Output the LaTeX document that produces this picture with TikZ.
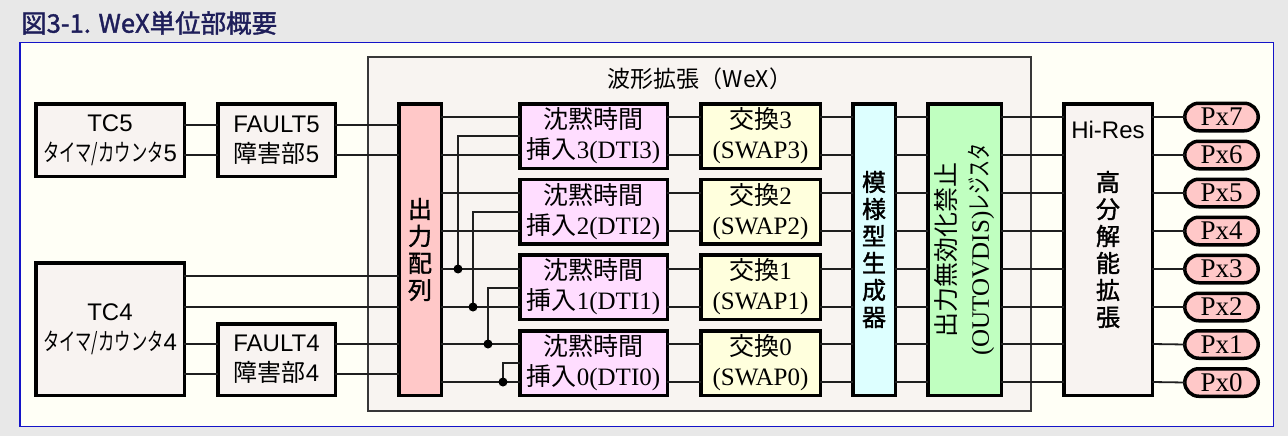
\documentclass[tikz,border=0pt]{standalone}
\usepackage{fontspec}
\setmainfont{Liberation Serif}
\newfontfamily\jp{Noto Sans CJK JP}
\newfontfamily\jpb{Noto Sans CJK JP}[FakeBold=1.5]
\newfontfamily\jpn{Noto Sans CJK JP}[FakeStretch=0.68]
\newfontfamily\ls{Liberation Sans}
\newcommand\fsz[2]{\fontsize{#1}{#2}\selectfont}

\definecolor{pagebg}{HTML}{E8E8E8}
\definecolor{framefill}{HTML}{FFFFF6}
\definecolor{frameline}{HTML}{1414C8}
\definecolor{titlecol}{HTML}{1E1E5A}
\definecolor{wexfill}{HTML}{F8F4F1}
\definecolor{wexline}{HTML}{383838}
\definecolor{unitfill}{HTML}{F8F3F1}
\definecolor{pinkfill}{HTML}{FFC8C8}
\definecolor{dtifill}{HTML}{FFDDFF}
\definecolor{swapfill}{HTML}{FFFFDD}
\definecolor{patfill}{HTML}{DDFFFF}
\definecolor{disfill}{HTML}{C0FFC0}

\tikzset{
  blk/.style={draw=black, line width=3.5pt, inner sep=0pt, outer sep=0pt, align=center},
  unitbox/.style={blk, fill=unitfill, minimum width=148.5pt, font=\ls\fsz{24}{30}},
  faultbox/.style={blk, fill=unitfill, minimum width=117.5pt, font=\ls\fsz{24}{30}},
  tallbox/.style={blk, minimum height=291.5pt, font=\jpb\fsz{24}{27}},
  dtibox/.style={blk, fill=dtifill, minimum width=147.5pt, minimum height=64.5pt, font=\fsz{25}{30}},
  swapbox/.style={blk, fill=swapfill, minimum width=119.5pt, minimum height=64.5pt, font=\fsz{25}{30}},
  pill/.style={blk, fill=pinkfill, minimum width=73.5pt, minimum height=27.5pt, rounded corners=14pt, font=\fsz{27}{27}},
  wire/.style={line width=1.8pt, draw=black!88},
  joint/.style={fill=black}
}

\begin{document}
\begin{tikzpicture}[x=1pt,y=-1pt]
\useasboundingbox (0,0) rectangle (1288,436);
\fill[pagebg] (0,0) rectangle (1288,436);
\draw[frameline, line width=1.5pt, fill=framefill] (19.75,42.75) rectangle (1273.25,426.25);
\node[anchor=west, text=titlecol, font=\jpb\fsz{25.5}{28}, inner sep=0pt] (title) at (21,23) {図3-1. WeX単位部概要};

% waveform extension block
\node[draw=wexline, line width=2pt, fill=wexfill, minimum width=663pt, minimum height=354pt, inner sep=0pt, outer sep=0pt] (wex) at (699.5,234) {};
\node[font=\jp\fsz{23}{26}, inner sep=0pt] (wextitle) at (700,79) {波形拡張（WeX）};

% signal rows
\coordinate (t1) at (0,125);
\coordinate (t2) at (0,155);
\coordinate (t3) at (0,276);
\coordinate (t4) at (0,307);
\coordinate (t5) at (0,344);
\coordinate (t6) at (0,374);
\coordinate (r7) at (0,117);
\coordinate (r6) at (0,155);
\coordinate (r5) at (0,193);
\coordinate (r4) at (0,231);
\coordinate (r3) at (0,269);
\coordinate (r2) at (0,307);
\coordinate (r1) at (0,344);
\coordinate (r0) at (0,382);
\coordinate (b3) at (0,136);
\coordinate (b2) at (0,212);
\coordinate (b1) at (0,288);
\coordinate (b0) at (0,363);
\coordinate (k3) at (458,0);
\coordinate (k2) at (473,0);
\coordinate (k1) at (488,0);
\coordinate (k0) at (503,0);

% timer/counters and fault units
\node[unitbox, minimum height=72.5pt] (tc5) at (110,140) {TC5\\{\jpn タイマ/カウンタ}5};
\node[faultbox, minimum height=72.5pt] (fault5) at (276.5,140) {FAULT5\\{\jp 障害部}5};
\node[unitbox, minimum height=132.5pt] (tc4) at (110,329) {TC4\\{\jpn タイマ/カウンタ}4};
\node[faultbox, minimum height=71.5pt] (fault4) at (276.5,359.5) {FAULT4\\{\jp 障害部}4};

% output matrix
\node[tallbox, fill=pinkfill, minimum width=42.5pt] (arr) at (420,249.5) {出\\力\\配\\列};

% dead-time insertion and swap units
\node[dtibox] (dti3) at (593.5,136) {{\jp 沈黙時間}\\{\jp 挿入}3(DTI3)};
\node[dtibox] (dti2) at (593.5,211.5) {{\jp 沈黙時間}\\{\jp 挿入}2(DTI2)};
\node[dtibox] (dti1) at (593.5,287) {{\jp 沈黙時間}\\{\jp 挿入}1(DTI1)};
\node[dtibox] (dti0) at (593.5,363) {{\jp 沈黙時間}\\{\jp 挿入}0(DTI0)};
\node[swapbox] (swap3) at (760.5,136) {{\jp 交換}3\\(SWAP3)};
\node[swapbox] (swap2) at (760.5,211.5) {{\jp 交換}2\\(SWAP2)};
\node[swapbox] (swap1) at (760.5,287) {{\jp 交換}1\\(SWAP1)};
\node[swapbox] (swap0) at (760.5,363) {{\jp 交換}0\\(SWAP0)};

% pattern generator and output override disable register
\node[tallbox, fill=patfill, minimum width=42.5pt] (pat) at (874,249.5) {模\\様\\型\\生\\成\\器};
\node[tallbox, fill=disfill, minimum width=73.5pt] (dis) at (964.5,249.5) {};
\node[rotate=90, align=center, font=\fsz{25}{33}, inner sep=0pt] (dislabel) at (dis.center) {{\jp 出力無効化禁止}\\(OUTOVDIS){\jpn レジスタ}};

% high resolution extension
\node[tallbox, fill=unitfill, minimum width=88.5pt] (hires) at (1108,249.5) {高\\分\\解\\能\\拡\\張};
\node[font=\ls\fsz{24}{27}, inner sep=0pt] (hirestag) at (1108,130) {Hi-Res};

% port pins
\node[pill] (px7) at (1221.5,117) {Px7};
\node[pill] (px6) at (1221.5,155) {Px6};
\node[pill] (px5) at (1221.5,193) {Px5};
\node[pill] (px4) at (1221.5,231) {Px4};
\node[pill] (px3) at (1221.5,269) {Px3};
\node[pill] (px2) at (1221.5,307) {Px2};
\node[pill] (px1) at (1221.5,344.5) {Px1};
\node[pill] (px0) at (1221.5,382.5) {Px0};

% wiring: counters to output matrix
\foreach \y in {t1,t2} {
  \draw[wire] (tc5.east |- \y) -- (fault5.west |- \y);
  \draw[wire] (fault5.east |- \y) -- (arr.west |- \y);
}
\foreach \y in {t3,t4}
  \draw[wire] (tc4.east |- \y) -- (arr.west |- \y);
\foreach \y in {t5,t6} {
  \draw[wire] (tc4.east |- \y) -- (fault4.west |- \y);
  \draw[wire] (fault4.east |- \y) -- (arr.west |- \y);
}

% wiring: output matrix to DTI and SWAP
\foreach \d/\ya/\yb in {3/r7/r6, 2/r5/r4, 1/r3/r2, 0/r1/r0} {
  \draw[wire] (arr.east |- \ya) -- (dti\d.west |- \ya);
  \draw[wire] (arr.east |- \yb) -- (dti\d.west |- \yb);
  \draw[wire] (dti\d.east |- \ya) -- (swap\d.west |- \ya);
  \draw[wire] (dti\d.east |- \yb) -- (swap\d.west |- \yb);
}

% DTI cross-feeds
\foreach \d/\b/\k/\r in {3/b3/k3/r3, 2/b2/k2/r2, 1/b1/k1/r1, 0/b0/k0/r0} {
  \draw[wire] (dti\d.west |- \b) -| (\k |- \r);
  \fill[joint] (\k |- \r) circle (4.5pt);
}

% wiring: SWAP through to the pins
\foreach \i/\d in {7/3, 6/3, 5/2, 4/2, 3/1, 2/1, 1/0, 0/0} {
  \draw[wire] (swap\d.east |- r\i) -- (pat.west |- r\i);
  \draw[wire] (pat.east |- r\i) -- (dis.west |- r\i);
  \draw[wire] (dis.east |- r\i) -- (hires.west |- r\i);
  \draw[wire] (hires.east |- r\i) -- (px\i.west);
}
\end{tikzpicture}
\end{document}
